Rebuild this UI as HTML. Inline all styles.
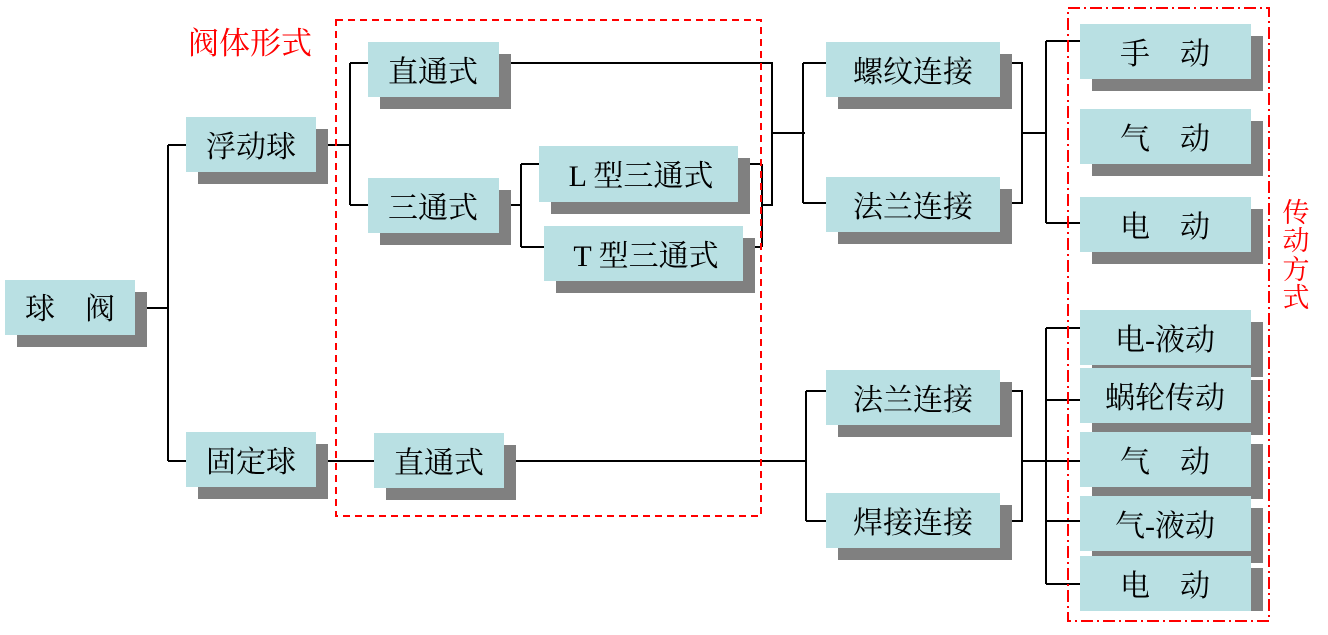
<!DOCTYPE html>
<html><head><meta charset="utf-8"><style>
html,body{margin:0;padding:0;background:#fff;width:1328px;height:635px;overflow:hidden}
svg text{font-family:"Liberation Serif","Noto Serif CJK SC",serif;font-size:30px}
svg text.r{fill:#f00}
</style></head><body>
<svg width="1328" height="635" xmlns="http://www.w3.org/2000/svg">
<g fill="#808080">
<rect x="17" y="292" width="130" height="55"/>
<rect x="198" y="129" width="130" height="55"/>
<rect x="380" y="54" width="131" height="55"/>
<rect x="380" y="190" width="131" height="55"/>
<rect x="551" y="158" width="199" height="56"/>
<rect x="556" y="238" width="199" height="55"/>
<rect x="838" y="54" width="174" height="55"/>
<rect x="838" y="189" width="174" height="55"/>
<rect x="838" y="382" width="174" height="55"/>
<rect x="838" y="505" width="174" height="55"/>
<rect x="198" y="444" width="130" height="55"/>
<rect x="386" y="445" width="130" height="55"/>
<rect x="1092" y="36" width="171" height="55"/>
<rect x="1092" y="121" width="171" height="55"/>
<rect x="1092" y="209" width="171" height="55"/>
<rect x="1092" y="322" width="171" height="55"/>
<rect x="1092" y="380" width="171" height="55"/>
<rect x="1092" y="444" width="171" height="55"/>
<rect x="1092" y="508" width="171" height="55"/>
<rect x="1092" y="568" width="171" height="43"/>
</g>
<g fill="none" stroke="#000" stroke-width="2">
<path d="M147 308H168M168 145V461M168 145H186M168 461H186"/>
<path d="M328 145H350M350 63V205M350 63H368M350 205H368"/>
<path d="M511 63H772V205H762M762 164V247M750 164H762M755 247H762"/>
<path d="M511 205H521M521 164V247M521 164H539M521 247H544"/>
<path d="M772 133H805M803 63V203M803 63H826M803 203H826"/>
<path d="M1012 63H1022V203H1012M1022 133H1046M1046 41V223M1046 41H1080M1046 223H1080"/>
<path d="M328 461H374M516 461H806M806 391V521M806 391H826M806 521H826"/>
<path d="M1012 391H1022V521H1012M1022 461H1046M1046 328V584M1046 328H1080M1046 400H1080M1046 461H1080M1046 521H1080M1046 584H1080"/>
</g>
<g fill="#b9e0e3">
<rect x="5" y="280" width="130" height="55"/>
<rect x="186" y="117" width="130" height="55"/>
<rect x="368" y="42" width="131" height="55"/>
<rect x="368" y="178" width="131" height="55"/>
<rect x="539" y="146" width="199" height="56"/>
<rect x="544" y="226" width="199" height="55"/>
<rect x="826" y="42" width="174" height="55"/>
<rect x="826" y="177" width="174" height="55"/>
<rect x="826" y="370" width="174" height="55"/>
<rect x="826" y="493" width="174" height="55"/>
<rect x="186" y="432" width="130" height="55"/>
<rect x="374" y="433" width="130" height="55"/>
<rect x="1080" y="24" width="171" height="55"/>
<rect x="1080" y="109" width="171" height="55"/>
<rect x="1080" y="197" width="171" height="55"/>
<rect x="1080" y="310" width="171" height="55"/>
<rect x="1080" y="368" width="171" height="55"/>
<rect x="1080" y="432" width="171" height="55"/>
<rect x="1080" y="496" width="171" height="55"/>
<rect x="1080" y="556" width="171" height="55"/>
</g>
<rect x="336" y="20" width="425" height="496" fill="none" stroke="#f00" stroke-width="2" stroke-dasharray="7,5"/>
<rect x="1068" y="8" width="201" height="613" fill="none" stroke="#f00" stroke-width="2" stroke-dasharray="12,4,2,4"/>
<g text-anchor="middle">
<text x="70" y="319">球　阀</text>
<text x="251" y="157">浮动球</text>
<text x="433" y="82">直通式</text>
<text x="433" y="218">三通式</text>
<text x="641" y="186">L 型三通式</text>
<text x="646" y="266">T 型三通式</text>
<text x="913" y="82">螺纹连接</text>
<text x="913" y="217">法兰连接</text>
<text x="913" y="410">法兰连接</text>
<text x="913" y="533">焊接连接</text>
<text x="251" y="472">固定球</text>
<text x="439" y="473">直通式</text>
<text x="1165" y="64">手　动</text>
<text x="1165" y="149">气　动</text>
<text x="1165" y="237">电　动</text>
<text x="1165" y="350">电-液动</text>
<text x="1165" y="408">蜗轮传动</text>
<text x="1165" y="472">气　动</text>
<text x="1165" y="536">气-液动</text>
<text x="1165" y="596">电　动</text>
</g>
<text class="r" x="188" y="54" style="font-size:31px">阀体形式</text>
<g text-anchor="middle">
<text class="r" x="1296" y="222" style="font-size:27px">传</text>
<text class="r" x="1296" y="250" style="font-size:27px">动</text>
<text class="r" x="1296" y="279" style="font-size:27px">方</text>
<text class="r" x="1296" y="307" style="font-size:27px">式</text>
</g>
</svg>
</body></html>
